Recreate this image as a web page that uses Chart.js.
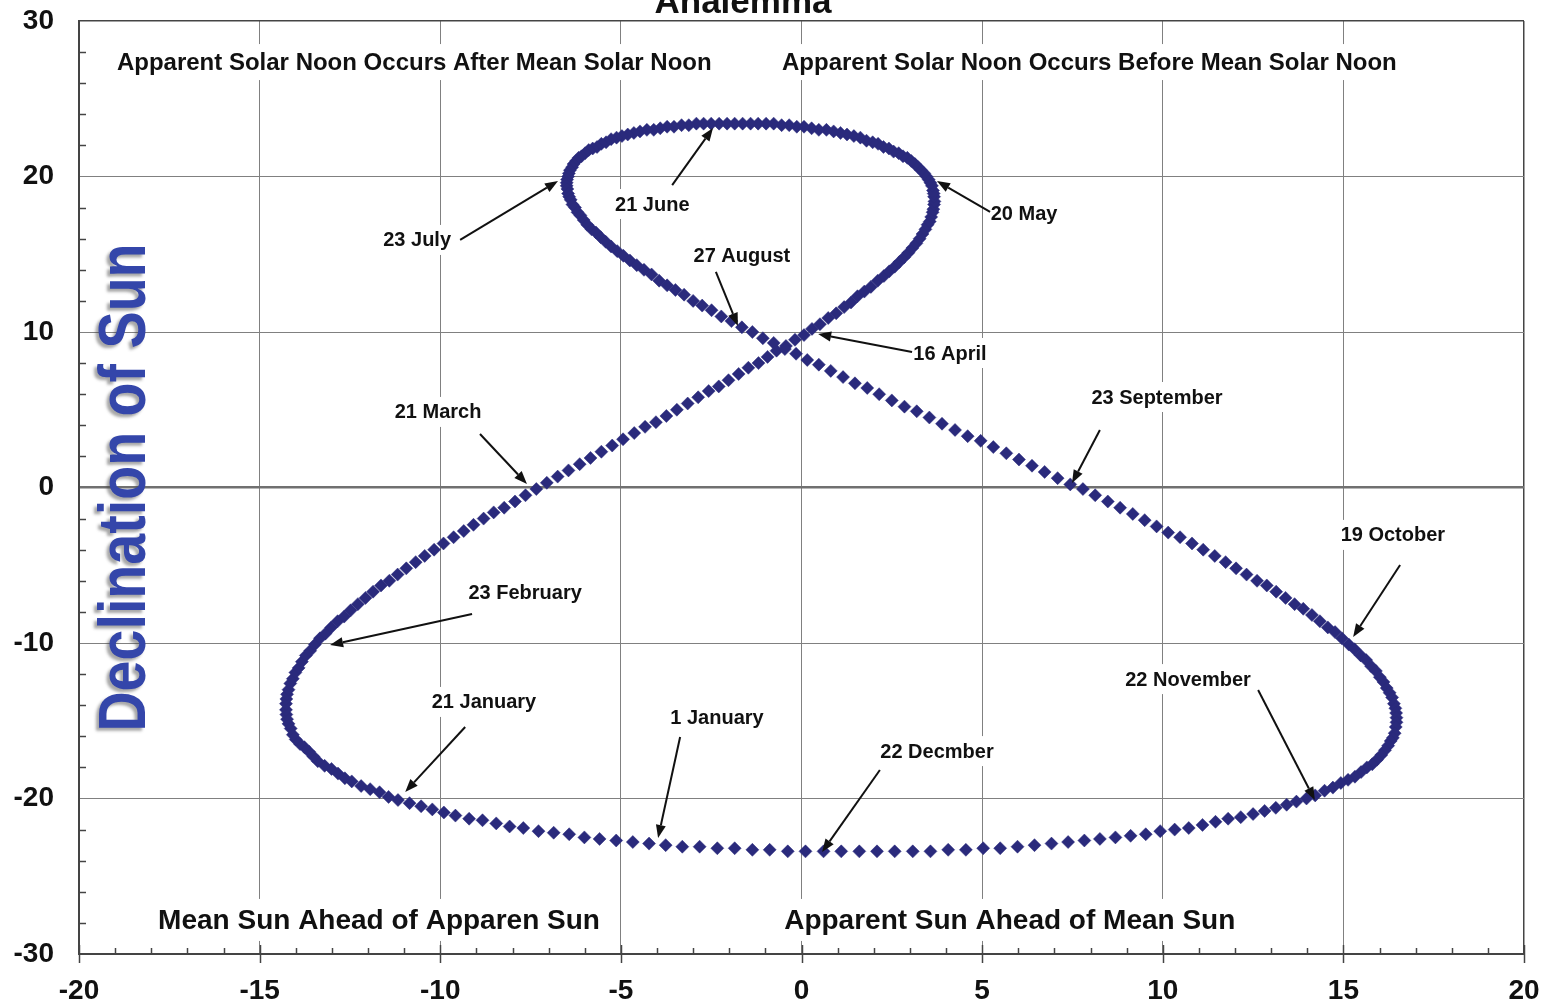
<!DOCTYPE html>
<html>
<head>
<meta charset="utf-8">
<title>Analemma</title>
<script src="https://cdn.jsdelivr.net/npm/chart.js@4.4.1/dist/chart.umd.min.js"></script>
<style>
  html, body { margin: 0; padding: 0; background: #fff; }
  canvas { display: block; }
</style>
</head>
<body>
<canvas id="analemma" width="1557" height="1006"></canvas>
<script>
// equation of time in minutes, one value per day from 1 January to 31 December
const eqTime = [
  -3.3, -3.76, -4.22, -4.67, -5.13,  -5.59, -6.01, -6.43, -6.86, -7.28,
  -7.7, -8.08, -8.45, -8.83, -9.2,  -9.58, -9.9, -10.22, -10.53, -10.85,
  -11.17, -11.43, -11.68, -11.94, -12.19,  -12.45, -12.64, -12.83, -13.01, -13.2,
  -13.39, -13.51, -13.63, -13.76, -13.88,  -14, -14.08, -14.14, -14.2, -14.24,
  -14.26, -14.27, -14.27, -14.26, -14.24,  -14.2, -14.15, -14.08, -14.01, -13.92,
  -13.83, -13.72, -13.6, -13.47, -13.33,  -13.18, -13.02, -12.84, -12.66, -12.48,
  -12.28, -12.07, -11.86, -11.64, -11.41,  -11.18, -10.94, -10.68, -10.43, -10.17,
  -9.91, -9.63, -9.35, -9.08, -8.8,  -8.52, -8.23, -7.93, -7.64, -7.34,
  -7.05, -6.75, -6.45, -6.14, -5.84,  -5.54, -5.24, -4.94, -4.63, -4.33,
  -4.03, -3.74, -3.45, -3.15, -2.86,  -2.57, -2.29, -2.02, -1.74, -1.47,
  -1.19, -0.94, -0.69, -0.43, -0.18,  0.07, 0.29, 0.51, 0.74, 0.96,
  1.18, 1.37, 1.55, 1.74, 1.92,  2.11, 2.28, 2.43, 2.58, 2.71,
  2.84, 2.96, 3.07, 3.18, 3.27,  3.35, 3.43, 3.49, 3.55, 3.59,
  3.63, 3.65, 3.67, 3.68, 3.67,  3.66, 3.64, 3.61, 3.57, 3.52,
  3.46, 3.4, 3.31, 3.23, 3.14,  3.04, 2.93, 2.81, 2.69, 2.55,
  2.42, 2.27, 2.12, 1.97, 1.8,  1.63, 1.45, 1.26, 1.08, 0.89,
  0.69, 0.48, 0.28, 0.07, -0.13,  -0.34, -0.55, -0.77, -0.98, -1.2,
  -1.41, -1.63, -1.85, -2.06, -2.28,  -2.5, -2.71, -2.91, -3.12, -3.32,
  -3.53, -3.72, -3.91, -4.09, -4.28,  -4.47, -4.64, -4.81, -4.97, -5.12,
  -5.27, -5.41, -5.54, -5.66, -5.78,  -5.89, -5.99, -6.09, -6.17, -6.24,
  -6.31, -6.35, -6.41, -6.44, -6.46,  -6.49, -6.5, -6.5, -6.48, -6.46,
  -6.43, -6.39, -6.34, -6.27, -6.2,  -6.12, -6.03, -5.93, -5.81, -5.69,
  -5.56, -5.42, -5.27, -5.1, -4.93,  -4.75, -4.56, -4.36, -4.15, -3.94,
  -3.72, -3.49, -3.25, -3, -2.75,  -2.49, -2.22, -1.94, -1.65, -1.36,
  -1.07, -0.77, -0.46, -0.15, 0.16,  0.48, 0.81, 1.15, 1.48, 1.82,
  2.15, 2.5, 2.85, 3.19, 3.54,  3.89, 4.25, 4.6, 4.96, 5.31,
  5.67, 6.02, 6.38, 6.73, 7.09,  7.44, 7.79, 8.13, 8.48, 8.82,
  9.17, 9.5, 9.83, 10.15, 10.48,  10.81, 11.12, 11.44, 11.74, 12.03,
  12.32, 12.61, 12.88, 13.14, 13.4,  13.65, 13.89, 14.13, 14.35, 14.57,
  14.77, 14.96, 15.15, 15.31, 15.48,  15.63, 15.77, 15.9, 16.01, 16.11,
  16.2, 16.28, 16.35, 16.4, 16.44,  16.46, 16.47, 16.47, 16.45, 16.42,
  16.37, 16.31, 16.24, 16.15, 16.05,  15.93, 15.8, 15.65, 15.49, 15.32,
  15.13, 14.93, 14.71, 14.48, 14.22,  13.98, 13.7, 13.43, 13.13, 12.82,
  12.5, 12.16, 11.81, 11.46, 11.1,  10.72, 10.33, 9.93, 9.53, 9.11,
  8.69, 8.26, 7.83, 7.38, 6.92,  6.45, 5.98, 5.5, 5.03, 4.55,
  4.06, 3.57, 3.08, 2.58, 2.09,  1.6, 1.1, 0.61, 0.11, -0.38,
  -0.88, -1.36, -1.85, -2.33, -2.82
];

// declination of the sun in degrees, same days
const declination = [
  -23.1, -23.0, -22.9, -22.8, -22.7,  -22.6, -22.5, -22.3, -22.2, -22.1,
  -21.9, -21.8, -21.6, -21.4, -21.3,  -21.1, -20.9, -20.7, -20.5, -20.3,
  -20.1, -19.9, -19.6, -19.4, -19.2,  -18.9, -18.7, -18.4, -18.1, -17.9,
  -17.6, -17.3, -17.0, -16.7, -16.5,  -16.2, -15.9, -15.5, -15.2, -14.9,
  -14.6, -14.3, -13.9, -13.6, -13.3,  -13.0, -12.6, -12.3, -11.9, -11.6,
  -11.2, -10.8, -10.5, -10.1, -9.7,  -9.4, -9.0, -8.6, -8.3, -7.9,
  -7.5, -7.1, -6.7, -6.3, -6.0,  -5.6, -5.2, -4.8, -4.4, -4.0,
  -3.6, -3.2, -2.8, -2.4, -2.0,  -1.6, -1.3, -0.9, -0.5, -0.1,
  0.3, 0.7, 1.1, 1.5, 1.9,  2.3, 2.7, 3.1, 3.5, 3.9,
  4.2, 4.6, 5.0, 5.4, 5.8,  6.2, 6.5, 6.9, 7.3, 7.7,
  8.0, 8.4, 8.8, 9.1, 9.5,  9.8, 10.2, 10.5, 10.9, 11.2,
  11.6, 11.9, 12.3, 12.6, 12.9,  13.3, 13.6, 13.9, 14.2, 14.5,
  14.8, 15.1, 15.4, 15.7, 16.0,  16.3, 16.6, 16.9, 17.1, 17.4,
  17.7, 17.9, 18.2, 18.4, 18.7,  18.9, 19.1, 19.4, 19.6, 19.8,
  20.0, 20.2, 20.4, 20.6, 20.8,  21.0, 21.2, 21.3, 21.5, 21.6,
  21.8, 21.9, 22.1, 22.2, 22.3,  22.5, 22.6, 22.7, 22.8, 22.9,
  23.0, 23.0, 23.1, 23.2, 23.2,  23.3, 23.3, 23.4, 23.4, 23.4,
  23.4, 23.4, 23.4, 23.4, 23.4,  23.4, 23.4, 23.4, 23.3, 23.3,
  23.2, 23.2, 23.1, 23.0, 23.0,  22.9, 22.8, 22.7, 22.6, 22.5,
  22.4, 22.2, 22.1, 21.9, 21.8,  21.7, 21.5, 21.3, 21.2, 21.0,
  20.8, 20.6, 20.4, 20.2, 20.0,  19.8, 19.6, 19.4, 19.2, 18.9,
  18.7, 18.5, 18.2, 18.0, 17.7,  17.5, 17.2, 16.9, 16.6, 16.4,
  16.1, 15.8, 15.5, 15.2, 14.9,  14.6, 14.3, 14.0, 13.7, 13.3,
  13.0, 12.7, 12.4, 12.0, 11.7,  11.4, 11.0, 10.7, 10.3, 10.0,
  9.6, 9.3, 8.9, 8.6, 8.2,  7.9, 7.5, 7.1, 6.7, 6.4,
  6.0, 5.6, 5.2, 4.9, 4.5,  4.1, 3.7, 3.3, 3.0, 2.6,
  2.2, 1.8, 1.4, 1.0, 0.6,  0.2, -0.1, -0.5, -0.9, -1.3,
  -1.7, -2.1, -2.5, -2.9, -3.2,  -3.6, -4.0, -4.4, -4.8, -5.2,
  -5.6, -6.0, -6.3, -6.7, -7.1,  -7.5, -7.8, -8.2, -8.6, -9.0,
  -9.3, -9.7, -10.1, -10.4, -10.8,  -11.1, -11.5, -11.8, -12.2, -12.5,
  -12.9, -13.2, -13.5, -13.9, -14.2,  -14.5, -14.8, -15.1, -15.4, -15.8,
  -16.1, -16.3, -16.6, -16.9, -17.2,  -17.5, -17.8, -18.0, -18.3, -18.6,
  -18.8, -19.0, -19.3, -19.5, -19.8,  -20.0, -20.2, -20.4, -20.6, -20.8,
  -21.0, -21.2, -21.3, -21.5, -21.7,  -21.9, -22.0, -22.1, -22.3, -22.4,
  -22.5, -22.6, -22.7, -22.8, -22.9,  -23.0, -23.1, -23.2, -23.2, -23.3,
  -23.3, -23.4, -23.4, -23.4, -23.4,  -23.4, -23.4, -23.4, -23.4, -23.4,
  -23.3, -23.3, -23.2, -23.2, -23.1
];

// date callouts: label centre, arrow start and arrow point, in axis units
const dateNotes = [
  { text: '21 June',      at: [-4.13, 18.23],  from: [-3.58, 19.45],  to: [-2.45, 23.12] },
  { text: '23 July',      at: [-10.64, 15.92], from: [-9.45, 15.92],  to: [-6.74, 19.71] },
  { text: '20 May',       at: [6.16, 17.65],   from: [5.22, 17.72],   to: [3.75, 19.71] },
  { text: '27 August',    at: [-1.65, 14.95],  from: [-2.37, 13.86],  to: [-1.76, 10.39] },
  { text: '16 April',     at: [4.11, 8.65],    from: [3.06, 8.71],    to: [0.46, 9.87] },
  { text: '21 March',     at: [-10.06, 4.86],  from: [-8.9, 3.44],    to: [-7.6, 0.23] },
  { text: '23 September', at: [9.84, 5.82],    from: [8.26, 3.7],     to: [7.49, 0.29] },
  { text: '19 October',   at: [16.37, -3.05],  from: [16.57, -4.98],  to: [15.27, -9.61] },
  { text: '23 February',  at: [-7.65, -6.72],  from: [-9.12, -8.14],  to: [-13.05, -10.13] },
  { text: '21 January',   at: [-8.79, -13.79], from: [-9.31, -15.4],  to: [-10.97, -19.58] },
  { text: '1 January',    at: [-2.34, -14.82], from: [-3.36, -16.05], to: [-3.97, -22.54] },
  { text: '22 Decmber',   at: [3.75, -16.95],  from: [2.17, -18.17],  to: [0.57, -23.44] },
  { text: '22 November',  at: [10.7, -12.32],  from: [12.64, -13.02], to: [14.21, -20.1] }
];

// quadrant captions, left edge and middle height in axis units
const sideNotes = [
  { text: 'Apparent Solar Noon Occurs After Mean Solar Noon',  at: [-18.95, 27.36], size: 24 },
  { text: 'Apparent Solar Noon Occurs Before Mean Solar Noon', at: [-0.54, 27.36],  size: 24 },
  { text: 'Mean Sun Ahead of Apparen Sun',                     at: [-17.81, -27.81], size: 28 },
  { text: 'Apparent Sun Ahead of Mean Sun',                    at: [-0.48, -27.81],  size: 28 }
];

const chartTitle = 'Analemma';
const yTitle = 'Declination of Sun';

const FONT = '"Liberation Sans", Arial, Helvetica, sans-serif';
const dotColor = '#2a2a7c';

Chart.defaults.font.family = FONT;

function boxedText(ctx, text, x, y, size, align) {
  ctx.font = 'bold ' + size + 'px ' + FONT;
  const w = ctx.measureText(text).width;
  const left = align === 'left' ? x : x - w / 2;
  ctx.fillStyle = '#fff';
  ctx.fillRect(left - 6, y - size * 0.75, w + 12, size * 1.5);
  ctx.fillStyle = '#111';
  ctx.textAlign = 'left';
  ctx.textBaseline = 'middle';
  ctx.fillText(text, left, y + 1);
}

function arrow(ctx, x1, y1, x2, y2) {
  const ang = Math.atan2(y2 - y1, x2 - x1);
  const len = 13, half = 5;
  const bx = x2 - len * Math.cos(ang), by = y2 - len * Math.sin(ang);
  ctx.beginPath();
  ctx.moveTo(x1, y1);
  ctx.lineTo(bx, by);
  ctx.stroke();
  ctx.beginPath();
  ctx.moveTo(x2, y2);
  ctx.lineTo(bx + half * Math.sin(ang), by - half * Math.cos(ang));
  ctx.lineTo(bx - half * Math.sin(ang), by + half * Math.cos(ang));
  ctx.closePath();
  ctx.fill();
}

const decor = {
  id: 'decor',
  beforeDatasetsDraw(chart) {
    const { ctx, chartArea: a, scales: { x, y } } = chart;
    ctx.save();

    // axis ticks
    ctx.strokeStyle = '#444';
    ctx.lineWidth = 1.5;
    for (let v = -20; v <= 20; v++) {
      const px = Math.round(x.getPixelForValue(v)) + 0.5;
      ctx.beginPath();
      if (v % 5 === 0) {
        ctx.moveTo(px, a.bottom - 9);
        ctx.lineTo(px, a.bottom + 9);
      } else {
        ctx.moveTo(px, a.bottom - 6);
        ctx.lineTo(px, a.bottom);
      }
      ctx.stroke();
    }
    for (let v = -28; v < 30; v += 2) {
      if (v % 10 === 0) continue;
      const py = Math.round(y.getPixelForValue(v)) + 0.5;
      ctx.beginPath();
      ctx.moveTo(a.left, py);
      ctx.lineTo(a.left + 7, py);
      ctx.stroke();
    }

    // vertical axis title
    ctx.save();
    ctx.translate(127, (a.top + a.bottom) / 2);
    ctx.rotate(-Math.PI / 2);
    ctx.scale(0.83, 1);
    ctx.font = 'bold 67px ' + FONT;
    ctx.textAlign = 'center';
    ctx.textBaseline = 'middle';
    ctx.shadowColor = 'rgba(60,60,60,0.45)';
    ctx.shadowOffsetX = -3;
    ctx.shadowOffsetY = 3;
    ctx.shadowBlur = 3;
    ctx.fillStyle = '#3446aa';
    ctx.fillText(yTitle, 0, 0);
    ctx.restore();

    sideNotes.forEach(n => {
      boxedText(ctx, n.text, x.getPixelForValue(n.at[0]), y.getPixelForValue(n.at[1]), n.size, 'left');
    });
    dateNotes.forEach(n => {
      boxedText(ctx, n.text, x.getPixelForValue(n.at[0]), y.getPixelForValue(n.at[1]), 20, 'center');
    });
    ctx.restore();
  },
  afterDatasetsDraw(chart) {
    const { ctx, scales: { x, y } } = chart;
    ctx.save();
    ctx.strokeStyle = '#111';
    ctx.fillStyle = '#111';
    ctx.lineWidth = 2;
    dateNotes.forEach(n => {
      arrow(ctx,
        x.getPixelForValue(n.from[0]), y.getPixelForValue(n.from[1]),
        x.getPixelForValue(n.to[0]), y.getPixelForValue(n.to[1]));
    });
    ctx.restore();
  },
  afterDraw(chart) {
    const ctx = chart.ctx;
    ctx.save();
    ctx.font = 'bold 35px ' + FONT;
    ctx.fillStyle = '#111';
    ctx.textAlign = 'center';
    ctx.textBaseline = 'alphabetic';
    ctx.fillText(chartTitle, 743, 13);
    ctx.restore();
  }
};

const tickFont = { family: FONT, size: 28, weight: 'bold' };

new Chart(document.getElementById('analemma'), {
  type: 'scatter',
  data: {
    datasets: [{
      data: eqTime.map((v, i) => ({ x: v, y: declination[i] })),
      pointStyle: 'rectRot',
      pointRadius: 6.5,
      pointHoverRadius: 6.5,
      backgroundColor: dotColor,
      borderColor: dotColor,
      borderWidth: 0.5
    }]
  },
  options: {
    responsive: false,
    animation: false,
    events: [],
    layout: { padding: { top: 21, right: 33, left: 0, bottom: 0 } },
    plugins: {
      legend: { display: false },
      tooltip: { enabled: false },
      title: { display: false }
    },
    scales: {
      x: {
        type: 'linear',
        min: -20,
        max: 20,
        afterFit: s => { s.height = 52; s.paddingLeft = 0; s.paddingRight = 0; },
        ticks: { stepSize: 5, font: tickFont, color: '#111', padding: 20, maxRotation: 0, autoSkip: false },
        grid: {
          drawTicks: false,
          color: c => (Math.abs(c.tick.value) === 20 ? '#444' : '#808080'),
          lineWidth: c => (Math.abs(c.tick.value) === 20 ? 1.5 : 1)
        },
        border: { color: '#444', width: 2 }
      },
      y: {
        min: -30,
        max: 30,
        afterFit: s => { s.width = 79; s.paddingTop = 0; s.paddingBottom = 0; },
        ticks: { stepSize: 10, font: tickFont, color: '#111', padding: 25, autoSkip: false },
        grid: {
          drawTicks: false,
          color: c => (c.tick.value === 0 ? '#707070' : Math.abs(c.tick.value) === 30 ? '#444' : '#808080'),
          lineWidth: c => (c.tick.value === 0 ? 2.5 : Math.abs(c.tick.value) === 30 ? 1.5 : 1)
        },
        border: { color: '#444', width: 2 }
      }
    }
  },
  plugins: [decor]
});
</script>
</body>
</html>
